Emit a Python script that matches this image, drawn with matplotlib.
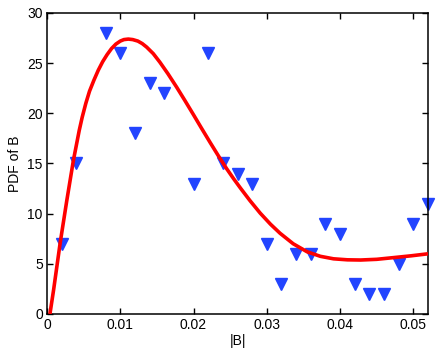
import numpy as np
import matplotlib
matplotlib.use("Agg")
import matplotlib.pyplot as plt

plt.rcParams['font.family'] = ['Liberation Sans', 'DejaVu Sans']

# scatter data
b_vals = [0.002, 0.004, 0.008, 0.010, 0.012, 0.014, 0.016, 0.020, 0.022, 0.024,
          0.026, 0.028, 0.030, 0.032, 0.034, 0.036, 0.038, 0.040, 0.042, 0.044,
          0.046, 0.048, 0.050, 0.052]
pdf_vals = [7, 15, 28, 26, 18, 23, 22, 13, 26, 15,
            14, 13, 7, 3, 6, 6, 9, 8, 3, 2,
            2, 5, 9, 11]

# fitted curve
fit_x = [0.0004, 0.0009, 0.0018, 0.0027, 0.0036, 0.0044, 0.0048, 0.0053, 0.0058,
         0.0064, 0.0070, 0.0076, 0.0082, 0.0088, 0.0094, 0.0100, 0.0105, 0.0111,
         0.0117, 0.0124, 0.0130, 0.0136, 0.0145, 0.0154, 0.0165, 0.0177, 0.0188,
         0.0200, 0.0211, 0.0223, 0.0234, 0.0245, 0.0255, 0.0264, 0.0277, 0.0291,
         0.0305, 0.0318, 0.0336, 0.0355, 0.0373, 0.0391, 0.0410, 0.0428, 0.0450,
         0.0473, 0.0497, 0.0520]
fit_y = [0.0, 2.4, 7.1, 11.3, 15.3, 18.3, 19.6, 21.0, 22.2,
         23.3, 24.3, 25.15, 25.85, 26.45, 26.9, 27.2, 27.35, 27.4,
         27.35, 27.2, 26.95, 26.6, 25.95, 25.1, 23.95, 22.6, 21.3,
         19.85, 18.5, 17.05, 15.75, 14.5, 13.45, 12.55, 11.3, 10.05,
         8.95, 8.05, 7.0, 6.2, 5.75, 5.5, 5.4, 5.38, 5.45,
         5.62, 5.8, 6.0]

x_ticks = [0, 0.01, 0.02, 0.03, 0.04, 0.05]
x_labels = ["0", "0.01", "0.02", "0.03", "0.04", "0.05"]
y_ticks = [0, 5, 10, 15, 20, 25, 30]

fig = plt.figure(figsize=(4.36, 3.55), dpi=100)
ax = fig.add_axes([0.1078, 0.1155, 0.8739, 0.8479])

ax.plot(b_vals, pdf_vals, linestyle="none", marker="v", markersize=9,
        color="#2244ff", markeredgecolor="#2244ff", zorder=2, clip_on=False)
ax.plot(fit_x, fit_y, color="red", linewidth=2.6, solid_joinstyle="round",
        solid_capstyle="butt", zorder=3)

ax.set_xlim(0, 0.052)
ax.set_ylim(0, 30)
ax.set_xticks(x_ticks)
ax.set_xticklabels(x_labels)
ax.set_yticks(y_ticks)
ax.tick_params(direction="in", top=True, right=True, length=4, width=1.0,
               labelsize=10, pad=3)
for s in ax.spines.values():
    s.set_linewidth(1.1)

ax.set_xlabel("|B|", fontsize=10, labelpad=1)
ax.set_ylabel("PDF of B", fontsize=10, labelpad=4)

fig.savefig("out.png", dpi=100)
